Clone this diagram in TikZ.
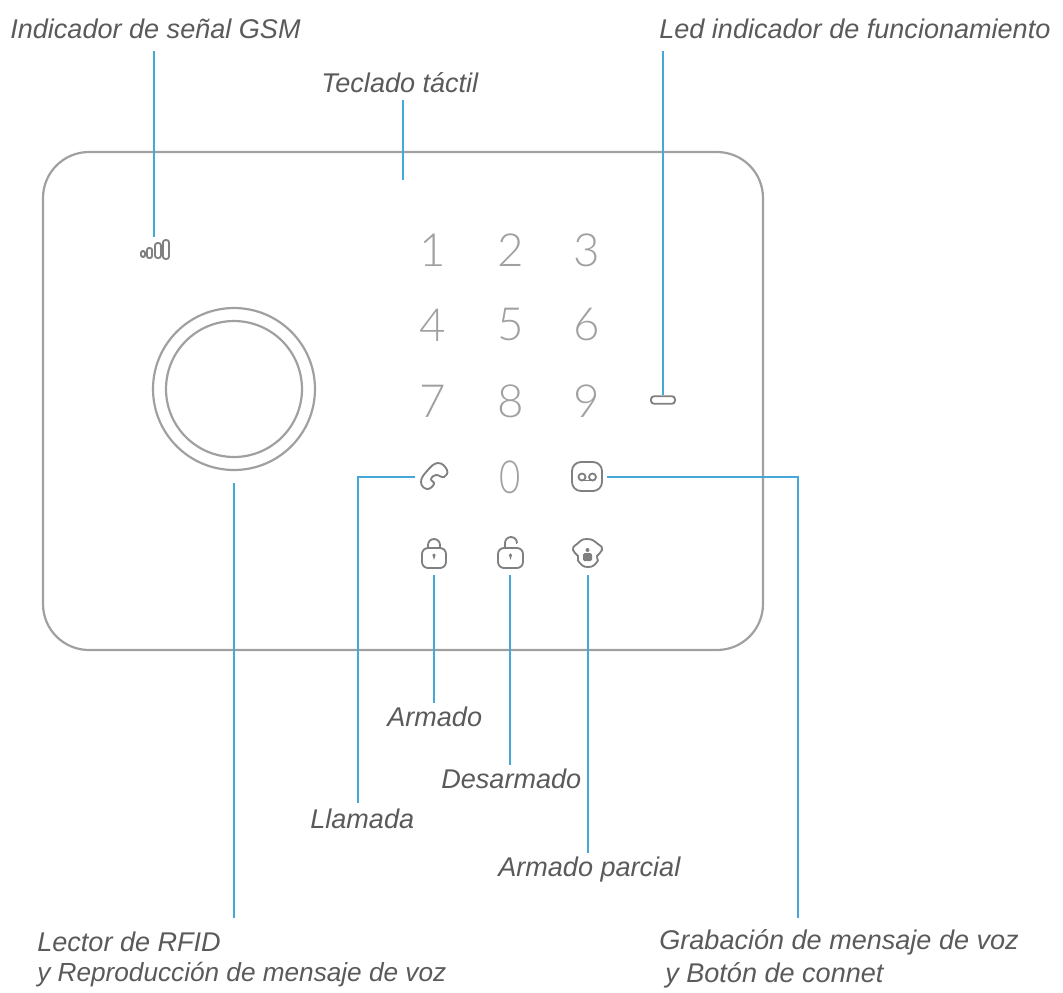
\documentclass[tikz,border=0pt]{standalone}
\usepackage{fontspec}
\setmainfont{Liberation Sans}
\newfontfamily\keyfont{Lato Light}
\definecolor{leadblue}{HTML}{45A8D8}
\definecolor{casegray}{HTML}{A0A0A0}
\definecolor{labelgray}{HTML}{5A5A5A}
\definecolor{keygray}{HTML}{A0A0A0}
\definecolor{icongray}{HTML}{808080}
\tikzset{
  lead/.style={draw=leadblue,line width=1.15pt},
  caption/.style={anchor=west,inner sep=0,text=labelgray,font=\fontsize{15.4}{18}\selectfont\itshape},
  keydigit/.style={inner sep=0,text=keygray,font=\fontsize{26}{30}\selectfont\keyfont},
  iconbox/.style={inner sep=0,minimum width=.76cm,minimum height=.68cm},
  iconline/.style={draw=icongray,line width=1.05pt},
  caseline/.style={draw=casegray,line width=1.25pt}
}
\begin{document}
\begin{tikzpicture}[x=.02cm,y=-.02cm]
    \useasboundingbox (0,0) rectangle (1063,992);

    % housing
    \draw[caseline,rounded corners=.92cm] (43,152) rectangle (763,650);
    \node[caseline,draw,circle,inner sep=0,minimum size=3.24cm] (rfidouter) at (234,389) {};
    \node[caseline,draw,circle,inner sep=0,minimum size=2.72cm] (rfidinner) at (234,389) {};

    % keys
    \node[keydigit] (key1) at (433,250) {1};
    \node[keydigit] (key2) at (511,250) {2};
    \node[keydigit] (key3) at (587,250) {3};
    \node[keydigit] (key4) at (433,325) {4};
    \node[keydigit] (key5) at (511,325) {5};
    \node[keydigit] (key6) at (587,325) {6};
    \node[keydigit] (key7) at (433,401) {7};
    \node[keydigit] (key8) at (511,401) {8};
    \node[keydigit] (key9) at (587,401) {9};
    \node[keydigit,xscale=.8] (key0) at (510,477) {0};

    % led and signal bars
    \node[iconline,draw,rounded corners=.06cm,inner sep=0,minimum width=.48cm,minimum height=.15cm] (led) at (663,400) {};
    \node[inner sep=0,minimum width=.6cm,minimum height=.02cm] (gsmbars) at (154,238) {};
    \draw[iconline,rounded corners=.03cm] (141,251) rectangle (145,257);
    \draw[iconline,rounded corners=.04cm] (147,248) rectangle (152,258);
    \draw[iconline,rounded corners=.05cm] (155,243) rectangle (161,258);
    \draw[iconline,rounded corners=.05cm] (163,240) rectangle (169,259);

    % phone
    \node[iconbox] (phone) at (434,477) {};
    \draw[iconline] plot[smooth cycle,tension=.8] coordinates {(447,470) (438,463) (427,471) (421,482) (427,489) (434,484) (431,479) (436,475) (444,477)};

    % voice mail
    \node[iconbox,minimum width=.8cm] (voicemail) at (587,477) {};
    \draw[iconline,rounded corners=.18cm] (572,462) rectangle (602,491);
    \draw[iconline] (582,477) circle[radius=.07cm];
    \draw[iconline] (592.5,477) circle[radius=.07cm];
    \draw[iconline] (582,480.5) -- (592.5,480.5);

    % closed lock
    \node[iconbox] (lockarm) at (434,558) {};
    \draw[iconline,rounded corners=.12cm] (422,548) rectangle (446,568);
    \draw[iconline] (428,548) -- (428,545) arc[start angle=180,end angle=0,radius=.12cm] -- (440,548);
    \fill[icongray] (434,555) circle[radius=.035cm] -- (432.5,555) -- (434,560) -- (435.5,555) -- cycle;

    % open lock
    \node[iconbox] (lockdis) at (510,558) {};
    \draw[iconline,rounded corners=.12cm] (498,548) rectangle (523,568);
    \draw[iconline] (505,548) -- (505,543) arc[start angle=180,end angle=0,radius=.12cm] -- (517,543);
    \fill[icongray] (510.5,555) circle[radius=.035cm] -- (509,555) -- (510.5,560) -- (512,555) -- cycle;

    % partial arm
    \node[iconbox] (lockpart) at (588,558) {};
    \draw[iconline] plot[smooth cycle,tension=1] coordinates {(587,539) (598,544) (602,550) (597,556) (597,562) (588,567) (579,562) (578,556) (573,550) (577,544)};
    \fill[icongray,rounded corners=.03cm] (583,553) rectangle (592,561);
    \fill[icongray] (587.5,550) circle[radius=.04cm];

    % captions
    \node[caption] (gsmtext) at (10,29) {Indicador de señal GSM};
    \node[caption] (ledtext) at (659,29) {Led indicador de funcionamiento};
    \node[caption] (touchtext) at (321,83) {Teclado táctil};
    \node[caption] (armtext) at (387,717) {Armado};
    \node[caption] (distext) at (441,779) {Desarmado};
    \node[caption] (calltext) at (310,819) {Llamada};
    \node[caption] (parttext) at (498,869) {Armado parcial};
    \node[caption] (rfidtext) at (37,942) {Lector de RFID};
    \node[caption,font=\fontsize{14.9}{18}\selectfont\itshape] (rfidtextb) at (37,975) {y Reproducción de mensaje de voz};
    \node[caption] (voicetext) at (659,942) {Grabación de mensaje de voz};
    \node[caption] (voicetextb) at (665,975) {y Botón de connet};

    % free ends of the leads
    \coordinate (gsmtop) at (154,51);
    \coordinate (ledtop) at (663,51);
    \coordinate (touchtop) at (403,100);
    \coordinate (touchend) at (403,180);
    \coordinate (armend) at (434,703);
    \coordinate (disend) at (510,765);
    \coordinate (callend) at (358,803);
    \coordinate (partend) at (588,853);
    \coordinate (rfidend) at (234,918);
    \coordinate (voiceend) at (798,918);
    \coordinate (rfidstart) at (234,483);

    % leads
    \draw[lead] (gsmtop) -- (gsmbars.north);
    \draw[lead] (ledtop) -- (led.north);
    \draw[lead] (touchtop) -- (touchend);
    \draw[lead] (lockarm.south) -- (armend);
    \draw[lead] (lockdis.south) -- (disend);
    \draw[lead] (lockpart.south) -- (partend);
    \draw[lead] (phone.west) -- (callend |- phone.west) -- (callend);
    \draw[lead] (voicemail.east) -- (voiceend |- voicemail.east) -- (voiceend);
    \draw[lead] (rfidstart) -- (rfidend);
\end{tikzpicture}
\end{document}
